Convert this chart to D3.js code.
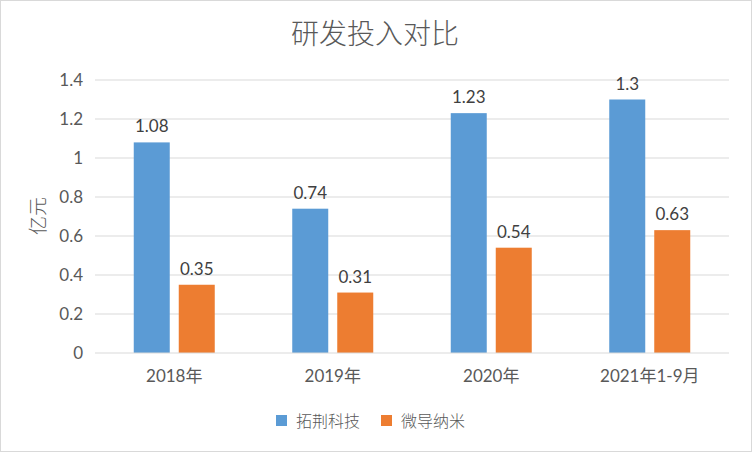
<!DOCTYPE html>
<html>
<head>
<meta charset="utf-8">
<script src="https://cdn.jsdelivr.net/npm/d3@7"></script>
<style>
  html, body { margin: 0; padding: 0; background: #fff; }
  #chart { width: 752px; height: 452px; }
  text { font-family: Lato, "Noto Sans", "Noto Sans CJK SC", sans-serif; }
</style>
</head>
<body>
<div id="chart"></div>
<script>
const CATEGORIES = ["2018年", "2019年", "2020年", "2021年1-9月"];
const SERIES_NAMES = ["拓荆科技", "微导纳米"];
const TUOJING = [1.08, 0.74, 1.23, 1.3];
const WEIDAO = [0.35, 0.31, 0.54, 0.63];
const Y_TICKS = [0, 0.2, 0.4, 0.6, 0.8, 1, 1.2, 1.4];
const COLORS = ["#5b9bd5", "#ed7d31"];

const width = 752;
const height = 452;
const plot = { left: 95, right: 729, top: 80, bottom: 353 };

const rows = CATEGORIES.map((c, i) => ({ cat: c, values: [TUOJING[i], WEIDAO[i]] }));

const svg = d3.select("#chart").append("svg")
  .attr("width", width).attr("height", height);

// chart border
svg.append("rect")
  .attr("x", 0.5).attr("y", 0.5)
  .attr("width", width - 1).attr("height", height - 1)
  .attr("fill", "#fff").attr("stroke", "#d9d9d9");

const x = d3.scaleBand()
  .domain(CATEGORIES)
  .range([plot.left, plot.right]);

const y = d3.scaleLinear()
  .domain([0, 1.4])
  .range([plot.bottom, plot.top]);

// gridlines
svg.append("g")
  .selectAll("line")
  .data(Y_TICKS.slice(1))
  .join("line")
  .attr("x1", plot.left).attr("x2", plot.right)
  .attr("y1", (d) => y(d)).attr("y2", (d) => y(d))
  .attr("stroke", "#d9d9d9").attr("stroke-width", 1);

// y axis labels
const yAxis = svg.append("g")
  .attr("transform", `translate(${plot.left},0)`)
  .call(d3.axisLeft(y).tickValues(Y_TICKS).tickSize(0).tickPadding(12)
    .tickFormat((d) => d3.format("~g")(d)));
yAxis.select(".domain").remove();
yAxis.selectAll("text")
  .attr("font-size", 17).attr("fill", "#595959")
  .attr("font-family", "Lato, 'Noto Sans', sans-serif");

// bars, each group width about 81 px in a 158 px band
const barW = 36;
const gap = 9;
rows.forEach((r) => {
  const cx = x(r.cat) + x.bandwidth() / 2;
  r.values.forEach((v, k) => {
    const bx = k === 0 ? cx - gap / 2 - barW : cx + gap / 2;
    svg.append("rect")
      .attr("x", bx).attr("y", y(v))
      .attr("width", barW).attr("height", y(0) - y(v))
      .attr("fill", COLORS[k]);
    svg.append("text")
      .attr("x", bx + barW / 2).attr("y", y(v) - 10)
      .attr("text-anchor", "middle")
      .attr("font-size", 17).attr("fill", "#404040")
      .text(d3.format("~g")(v));
  });
});

// x axis line
svg.append("line")
  .attr("x1", plot.left).attr("x2", plot.right)
  .attr("y1", y(0)).attr("y2", y(0))
  .attr("stroke", "#d9d9d9").attr("stroke-width", 1);

const xAxis = svg.append("g")
  .attr("transform", `translate(0,${plot.bottom})`)
  .call(d3.axisBottom(x).tickSize(0).tickPadding(17));
xAxis.select(".domain").remove();
xAxis.selectAll("text")
  .attr("font-size", 17).attr("fill", "#595959")
  .attr("font-family", "Lato, 'Noto Sans CJK SC', sans-serif");

// title
svg.append("text")
  .attr("x", 375).attr("y", 44)
  .attr("text-anchor", "middle")
  .attr("font-size", 28).attr("fill", "#595959")
  .attr("font-family", "'Noto Sans CJK SC', sans-serif")
  .attr("font-weight", 300)
  .text("研发投入对比");

// y axis title
svg.append("text")
  .attr("transform", "translate(45,216) rotate(-90)")
  .attr("text-anchor", "middle")
  .attr("font-size", 19).attr("fill", "#595959")
  .attr("font-family", "'Noto Sans CJK SC', sans-serif")
  .attr("font-weight", 300)
  .text("亿元");

// legend
const legend = svg.append("g").attr("transform", "translate(276,421)");
const legendX = [0, 105];
SERIES_NAMES.forEach((name, k) => {
  const g = legend.append("g").attr("transform", `translate(${legendX[k]},0)`);
  g.append("rect")
    .attr("x", 0).attr("y", -6).attr("width", 11).attr("height", 11)
    .attr("fill", COLORS[k]);
  g.append("text")
    .attr("x", 20).attr("y", 6)
    .attr("font-size", 16).attr("fill", "#595959")
    .attr("font-family", "'Noto Sans CJK SC', sans-serif")
    .attr("font-weight", 300)
    .text(name);
});
</script>
</body>
</html>
